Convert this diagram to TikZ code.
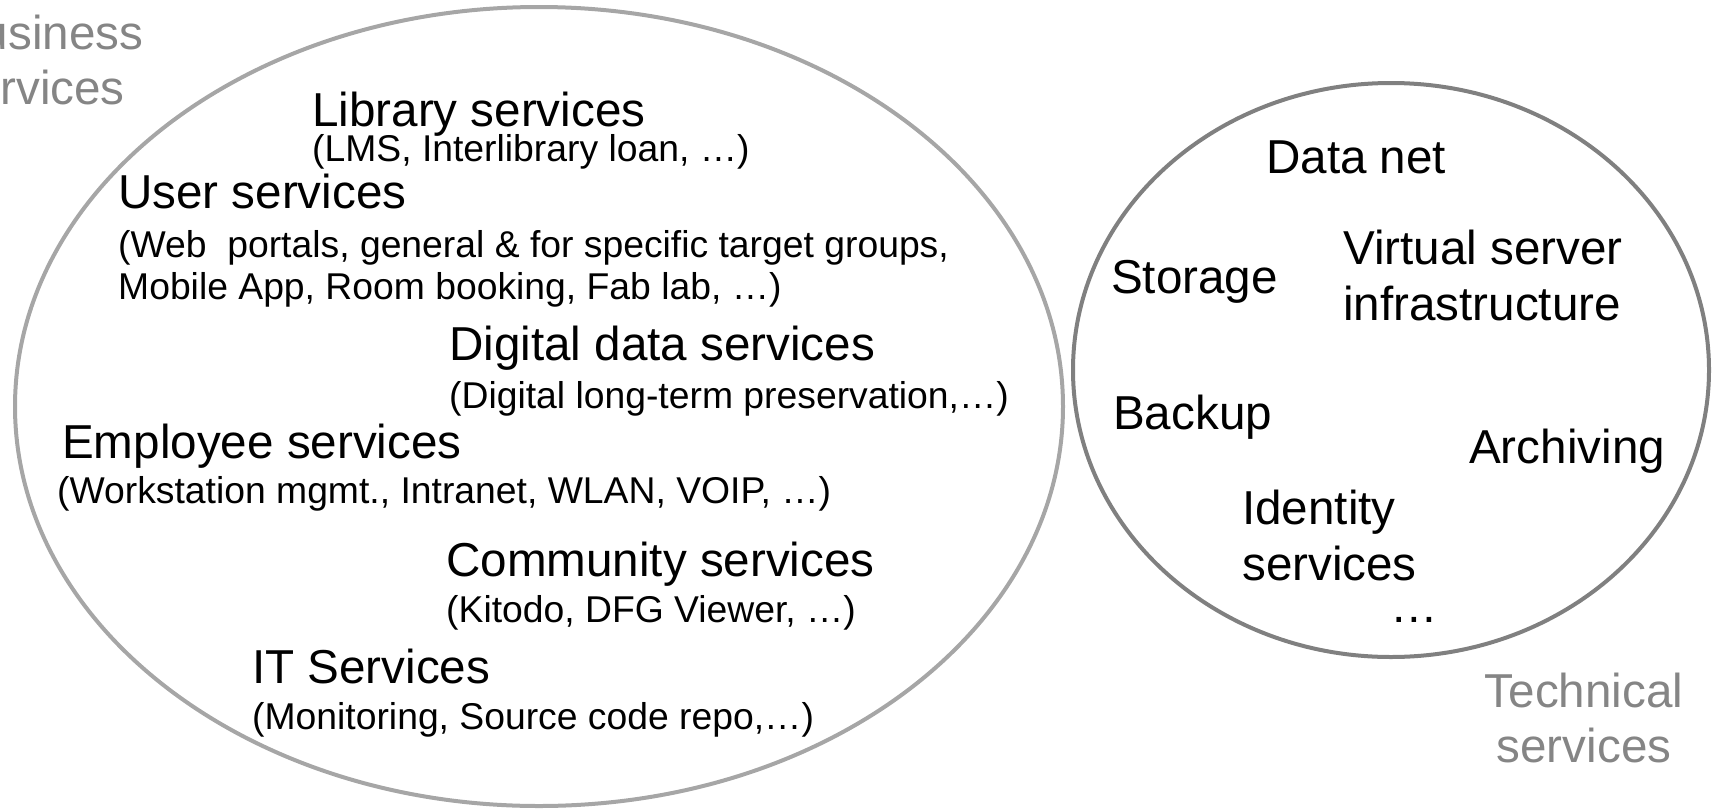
\documentclass[tikz,border=0pt]{standalone}
\usepackage{fontspec}
\setmainfont{Liberation Sans}
\usetikzlibrary{positioning}
\definecolor{bizGray}{HTML}{A6A6A6}
\definecolor{techGray}{HTML}{808080}
\definecolor{labelGray}{HTML}{858585}

\begin{document}
\begin{tikzpicture}[x=1pt, y=-1pt]
	\tikzstyle{headStyle}=[anchor=base west, inner sep=0pt, align=left, font=\fontsize{47.6}{56}\selectfont]
	\tikzstyle{detailStyle}=[anchor=base west, inner sep=0pt, align=left, font=\fontsize{37.3}{42}\selectfont]
	\tikzstyle{groupStyle}=[anchor=base, inner sep=0pt, align=center, text=labelGray, font=\fontsize{47.6}{55}\selectfont]
	\tikzstyle{ringStyle}=[line width=4pt]
	\useasboundingbox (0,0) rectangle (1719,809);
	% the two service areas
	\coordinate (biz) at (539,406.5);
	\coordinate (tech) at (1391,370);
	\draw[ringStyle, bizGray] (biz) ellipse [x radius=524, y radius=399.5];
	\draw[ringStyle, techGray] (tech) ellipse [x radius=318, y radius=287];
	\node[groupStyle, anchor=base west, align=left] (bizLabel) at (-50,104) {Business\\services};
	\node[groupStyle] (techLabel) at (1584,762) {Technical\\services};
	% business services
	\node[headStyle] (lib) at (312,126) {Library services};
	\node[detailStyle] (libD) at (312,161) {(LMS, Interlibrary loan, …)};
	\node[headStyle] (user) at (118,208) {User services};
	\node[detailStyle] (userD) at (118,299) {(Web~ portals, general \& for specific target groups,\\Mobile App, Room booking, Fab lab, …)};
	\node[headStyle] (digi) at (449,360) {Digital data services};
	\node[detailStyle] (digiD) at (449,408) {(Digital long-term preservation,…)};
	\node[headStyle] (empl) at (62,458) {Employee services};
	\node[detailStyle] (emplD) at (57,503) {(Workstation mgmt., Intranet, WLAN, VOIP, …)};
	\node[headStyle] (comm) at (446,576) {Community services};
	\node[detailStyle] (commD) at (446,622) {(Kitodo, DFG Viewer, …)};
	\node[headStyle] (itServ) at (252,683) {IT Services};
	\node[detailStyle] (itServD) at (252,729) {(Monitoring, Source code repo,…)};
	% technical services
	\node[headStyle] (dataNet) at (1266,173) {Data net};
	\node[headStyle] (storage) at (1111,293) {Storage};
	\node[headStyle] (virt) at (1343,320) {Virtual server\\infrastructure};
	\node[headStyle] (backup) at (1113,429) {Backup};
	\node[headStyle] (arch) at (1469,463) {Archiving};
	\node[headStyle] (ident) at (1242,580) {Identity\\services};
	\node[headStyle] (more) at (1390,622) {…};
\end{tikzpicture}
\end{document}
